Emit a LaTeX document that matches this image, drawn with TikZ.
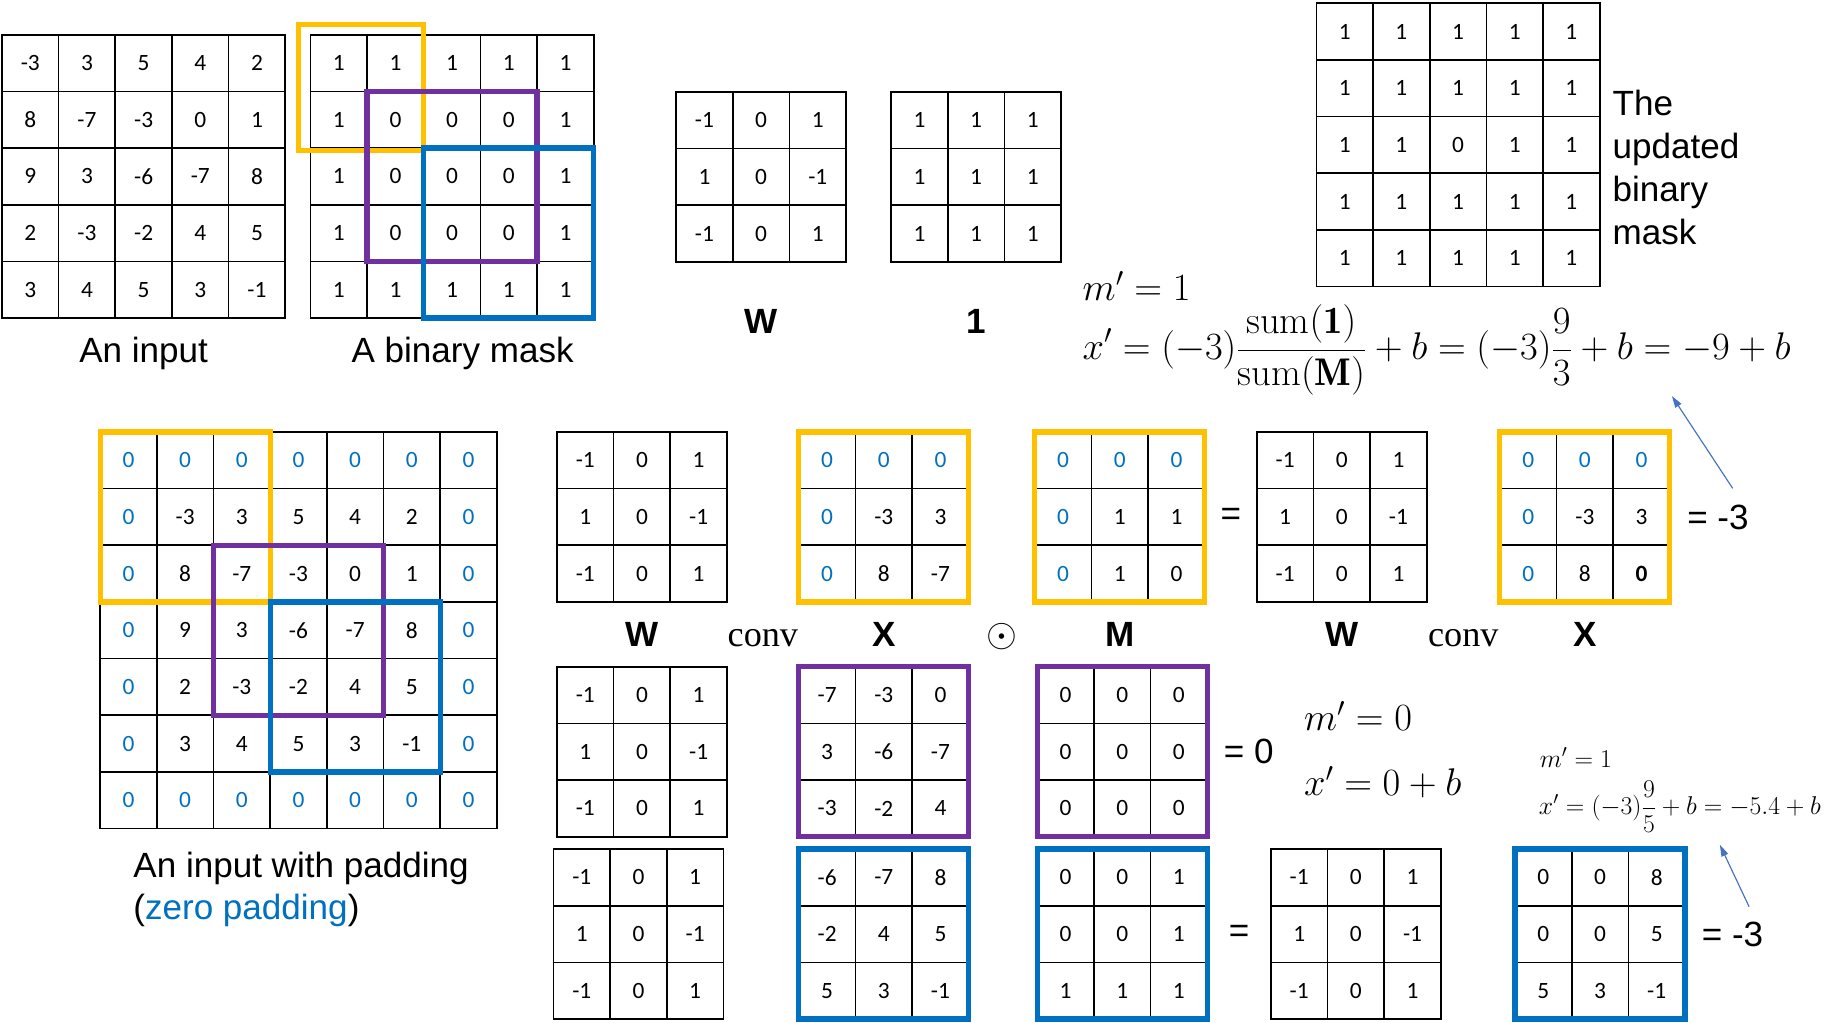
\RequirePackage{fix-cm}
\documentclass[tikz,border=0pt]{standalone}
\usepackage{fontspec}
\setsansfont{Liberation Sans}
\newfontfamily\cellfont{Carlito}
\newfontfamily\opfont{Liberation Serif}
\usetikzlibrary{arrows.meta, positioning, calc, matrix}

\definecolor{winyellow}{HTML}{FFC000}
\definecolor{winpurple}{HTML}{7030A0}
\definecolor{winblue}{HTML}{0070C0}
\definecolor{padblue}{HTML}{0070C0}
\definecolor{noteblue}{HTML}{4472C4}
\newcommand{\zp}{\textcolor{padblue}{0}}

\begin{document}
\begin{tikzpicture}[
    x=1pt, y=-1pt, >={Triangle[length=10pt, width=6pt]},
    numgrid/.style={matrix of nodes, anchor=north west, inner sep=0pt,
        outer sep=0pt, column sep=-1.4pt, row sep=-1.4pt,
        nodes={draw, line width=1.4pt, minimum width=48.5pt,
            minimum height=48.5pt, inner sep=0pt, outer sep=0pt,
            anchor=center, font=\cellfont\fontsize{20}{24}\selectfont}},
    txt/.style={inner sep=0pt, font=\sffamily\fontsize{30}{37}\selectfont},
    lbl/.style={txt, text height=22pt, text depth=7pt},
    sym/.style={lbl, font=\sffamily\bfseries\fontsize{30}{37}\selectfont},
    eqn/.style={inner sep=0pt, font=\fontsize{33}{40}\selectfont},
    smalleqn/.style={inner sep=0pt, font=\fontsize{22}{26}\selectfont},
    winy/.style={draw=winyellow, line width=4.5pt},
    winp/.style={draw=winpurple, line width=4.5pt},
    winb/.style={draw=winblue, line width=4.5pt},
    note/.style={draw=noteblue, line width=1pt, ->}
  ]
  \useasboundingbox (0,0) rectangle (1568,875);

  % top row
  \matrix[numgrid] (inp) at (1,29) {
    -3 & 3 & 5 & 4 & 2 \\
    8 & -7 & -3 & 0 & 1 \\
    9 & 3 & -6 & -7 & 8 \\
    2 & -3 & -2 & 4 & 5 \\
    3 & 4 & 5 & 3 & -1 \\
  };
  \matrix[numgrid] (mask) at (265,29) {
    1 & 1 & 1 & 1 & 1 \\
    1 & 0 & 0 & 0 & 1 \\
    1 & 0 & 0 & 0 & 1 \\
    1 & 0 & 0 & 0 & 1 \\
    1 & 1 & 1 & 1 & 1 \\
  };
  \matrix[numgrid] (w1) at (578,78) {
    -1 & 0 & 1 \\ 1 & 0 & -1 \\ -1 & 0 & 1 \\
  };
  \matrix[numgrid] (ones) at (762,78) {
    1 & 1 & 1 \\ 1 & 1 & 1 \\ 1 & 1 & 1 \\
  };
  \matrix[numgrid] (upd) at (1126,2) {
    1 & 1 & 1 & 1 & 1 \\
    1 & 1 & 1 & 1 & 1 \\
    1 & 1 & 0 & 1 & 1 \\
    1 & 1 & 1 & 1 & 1 \\
    1 & 1 & 1 & 1 & 1 \\
  };

  \node[lbl, below=15pt of inp] (linp) {An input};
  \node[lbl, below=15pt of mask, xshift=9pt] (lmask) {A binary mask};
  \node[sym, below=38.5pt of w1] (lw1) {W};
  \node[sym, below=38.5pt of ones] (lones) {1};
  \node[txt, align=left, anchor=north west] (lupd) at (1380,76.5)
    {The\\updated\\binary\\mask};

  \node[eqn, anchor=base west] (m1) at (926.5,256.8) {$m' = 1$};
  \node[eqn, anchor=west] (x1) at (926.5,299.6)
    {$\displaystyle x' = (-3)\frac{\mathrm{sum}(\mathbf{1})}{\mathrm{sum}(\mathbf{M})}
      + b = (-3)\frac{9}{3} + b = -9 + b$};

  % padded input
  \matrix[numgrid] (pad) at (85,369) {
    \zp & \zp & \zp & \zp & \zp & \zp & \zp \\
    \zp & -3 & 3 & 5 & 4 & 2 & \zp \\
    \zp & 8 & -7 & -3 & 0 & 1 & \zp \\
    \zp & 9 & 3 & -6 & -7 & 8 & \zp \\
    \zp & 2 & -3 & -2 & 4 & 5 & \zp \\
    \zp & 3 & 4 & 5 & 3 & -1 & \zp \\
    \zp & \zp & \zp & \zp & \zp & \zp & \zp \\
  };
  \node[txt, align=left, anchor=north west,
    font=\sffamily\fontsize{30}{36}\selectfont] (lpad) at (114,728.8)
    {An input with padding\\(\textcolor{padblue}{zero padding})};

  % yellow window
  \matrix[numgrid] (w2) at (476,369) {
    -1 & 0 & 1 \\ 1 & 0 & -1 \\ -1 & 0 & 1 \\
  };
  \matrix[numgrid] (xa) at (683,369) {
    \zp & \zp & \zp \\ \zp & -3 & 3 \\ \zp & 8 & -7 \\
  };
  \matrix[numgrid] (ma) at (885,369) {
    \zp & \zp & \zp \\ \zp & 1 & 1 \\ \zp & 1 & 0 \\
  };
  \matrix[numgrid] (w2b) at (1075,369) {
    -1 & 0 & 1 \\ 1 & 0 & -1 \\ -1 & 0 & 1 \\
  };
  \matrix[numgrid] (xa2) at (1283,369) {
    \zp & \zp & \zp \\ \zp & -3 & 3 \\ \zp & 8 & \textbf{0} \\
  };

  \node[sym, below=15.5pt of w2] (lw2) {W};
  \node[sym, below=15.5pt of xa] (lxa) {X};
  \node[sym, below=15.5pt of ma] (lma) {M};
  \node[sym, below=15.5pt of w2b] (lw2b) {W};
  \node[sym, below=15.5pt of xa2] (lxa2) {X};
  \node[lbl, font=\opfont\fontsize{31}{37}\selectfont] (conv1)
    at ($(lw2)!0.5!(lxa)$) {conv};
  \node[lbl, font=\fontsize{34}{40}\selectfont] (had)
    at ($(lxa)!0.5!(lma)$) {$\odot$};
  \node[lbl, font=\opfont\fontsize{31}{37}\selectfont] (conv2)
    at ($(lw2b)!0.5!(lxa2)$) {conv};
  \node[txt] (eq1) at ($(ma.east)!0.5!(w2b.west)$) {=};
  \node[txt, right=14pt of xa2] (res1) {= -3};

  % purple window
  \matrix[numgrid] (w3) at (476,570) {
    -1 & 0 & 1 \\ 1 & 0 & -1 \\ -1 & 0 & 1 \\
  };
  \matrix[numgrid] (xb) at (683,570) {
    -7 & -3 & 0 \\ 3 & -6 & -7 \\ -3 & -2 & 4 \\
  };
  \matrix[numgrid] (mb) at (887,570) {
    0 & 0 & 0 \\ 0 & 0 & 0 \\ 0 & 0 & 0 \\
  };
  \node[txt, right=13.5pt of mb] (res2) {= 0};
  \node[eqn, anchor=base west] (m2) at (1116,625) {$m' = 0$};
  \node[eqn, anchor=base west] (x2) at (1116,680.5) {$x' = 0 + b$};

  % blue window
  \matrix[numgrid] (w4) at (473,726) {
    -1 & 0 & 1 \\ 1 & 0 & -1 \\ -1 & 0 & 1 \\
  };
  \matrix[numgrid] (xc) at (683,726) {
    -6 & -7 & 8 \\ -2 & 4 & 5 \\ 5 & 3 & -1 \\
  };
  \matrix[numgrid] (mc) at (887,726) {
    0 & 0 & 1 \\ 0 & 0 & 1 \\ 1 & 1 & 1 \\
  };
  \matrix[numgrid] (w4b) at (1087,726) {
    -1 & 0 & 1 \\ 1 & 0 & -1 \\ -1 & 0 & 1 \\
  };
  \matrix[numgrid] (xc2) at (1296,726) {
    0 & 0 & 8 \\ 0 & 0 & 5 \\ 5 & 3 & -1 \\
  };
  \node[txt] (eq2) at ($(mc.east)!0.5!(w4b.west)$) {=};
  \node[txt, right=13.5pt of xc2] (res3) {= -3};
  \node[smalleqn, anchor=base west] (m3) at (1317.7,656.6) {$m' = 1$};
  \node[smalleqn, anchor=west] (x3) at (1317,690.4)
    {$\displaystyle x' = (-3)\frac{9}{5} + b = -5.4 + b$};

  % windows
  \draw[winy] ($(mask-1-1.north west)+(-10,-9)$) rectangle ($(mask-2-2.south east)+(0,2)$);
  \draw[winp] (mask-2-2.north west) rectangle (mask-4-4.south east);
  \draw[winb] (mask-3-3.north west) rectangle (mask-5-5.south east);
  \draw[winy] (pad-1-1.north west) rectangle (pad-3-3.south east);
  \draw[winp] (pad-3-3.north west) rectangle (pad-5-5.south east);
  \draw[winb] (pad-4-4.north west) rectangle (pad-6-6.south east);
  \foreach \m in {xa, ma, xa2}
    \draw[winy] (\m-1-1.north west) rectangle (\m-3-3.south east);
  \foreach \m in {xb, mb}
    \draw[winp] (\m-1-1.north west) rectangle (\m-3-3.south east);
  \foreach \m in {xc, mc, xc2}
    \draw[winb] (\m-1-1.north west) rectangle (\m-3-3.south east);

  \coordinate (tail1) at (1483,418);
  \coordinate (tip1) at (1431,339);
  \coordinate (tail2) at (1497,776);
  \coordinate (tip2) at (1472,723);
  \draw[note] (tail1) -- (tip1);
  \draw[note] (tail2) -- (tip2);
\end{tikzpicture}
\end{document}
